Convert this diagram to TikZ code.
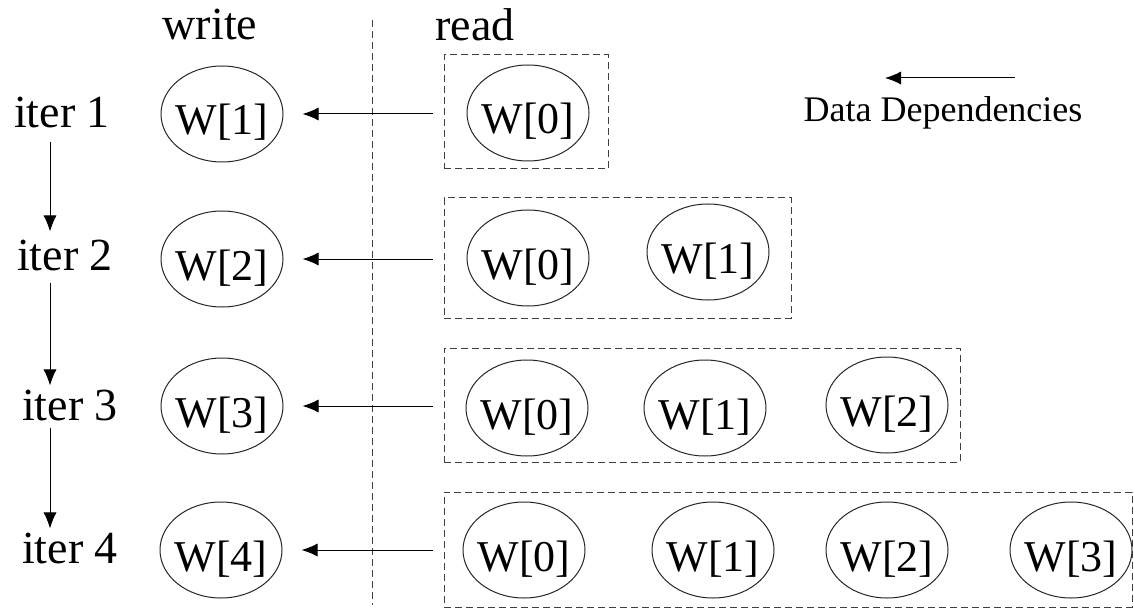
\documentclass[tikz,border=0pt]{standalone}
\usepackage{fontspec}
\setmainfont{Liberation Serif}
\usetikzlibrary{arrows.meta,shapes.geometric,fit}

\begin{document}
\begin{tikzpicture}[x=0.5pt,y=-0.5pt,
        cell/.style={draw=black!85,line width=0.5pt,ellipse,minimum width=61pt,minimum height=48pt,
            inner ysep=0pt,inner xsep=-5pt,font=\fontsize{22}{24}\selectfont,text height=24pt,text depth=3pt},
        readbox/.style={draw=black!75,line width=0.5pt,dash pattern=on 3.5pt off 2pt,inner sep=0pt},
        lbl/.style={font=\fontsize{23}{26}\selectfont},
        dep/.style={-{Latex[length=8pt,width=6.5pt]},line width=0.5pt}]
        \useasboundingbox (0,0) rectangle (1134,609);
        % headings and the split between written and read values
        \node[lbl] (write) at (210,25) {write};
        \node[lbl] (read) at (475,25) {read};
        \draw[draw=black!75,line width=0.5pt,dash pattern=on 3.5pt off 2pt] (372,20) -- (372,605);
        % iterations
        \node[lbl] (I1) at (62,112) {iter 1};
        \node[lbl] (I2) at (65,255) {iter 2};
        \node[lbl] (I3) at (70,405) {iter 3};
        \node[lbl] (I4) at (70,548) {iter 4};
        \coordinate (C) at (50,0);
        \draw[dep,shorten <=3.5pt,shorten >=0.5pt] (I1.south -| C) -- (I2.north -| C);
        \draw[dep,shorten <=2.5pt,shorten >=-1.5pt] (I2.south -| C) -- (I3.north -| C);
        \draw[dep,shorten >=-1.5pt] (I3.south -| C) -- (I4.north -| C);
        % written values
        \node[cell] (W1) at (222,114) {W[1]};
        \node[cell] (W2) at (222,259) {W[2]};
        \node[cell] (W3) at (222,406) {W[3]};
        \node[cell] (W4) at (221,550) {W[4]};
        % read values
        \node[cell] (R10) at (528,113) {W[0]};
        \node[cell] (R20) at (528,258) {W[0]};
        \node[cell] (R21) at (708,252) {W[1]};
        \node[cell] (R30) at (527,408) {W[0]};
        \node[cell] (R31) at (705,408) {W[1]};
        \node[cell] (R32) at (887,405) {W[2]};
        \node[cell] (R40) at (524,550) {W[0]};
        \node[cell] (R41) at (713,550) {W[1]};
        \node[cell] (R42) at (887,550) {W[2]};
        \node[cell] (R43) at (1071,550) {W[3]};
        \node[readbox,fit={(444,55) (608,169)}] (B1) {};
        \node[readbox,fit={(444,198) (791,318)}] (B2) {};
        \node[readbox,fit={(444,348) (960,462)}] (B3) {};
        \node[readbox,fit={(444,492) (1132,607)}] (B4) {};
        % dependencies
        \draw[dep,shorten <=5.5pt,shorten >=9.5pt] (B1.west |- W1.east) -- (W1.east);
        \draw[dep,shorten <=5.5pt,shorten >=9.5pt] (B2.west |- W2.east) -- (W2.east);
        \draw[dep,shorten <=5.5pt,shorten >=9.5pt] (B3.west |- W3.east) -- (W3.east);
        \draw[dep,shorten <=5.5pt,shorten >=9.5pt] (B4.west |- W4.east) -- (W4.east);
        % legend
        \coordinate (L1) at (1015,78);
        \coordinate (L0) at (885,78);
        \draw[dep] (L1) -- (L0);
        \node[font=\fontsize{18}{20}\selectfont] (legend) at (943,113) {Data Dependencies};
    \end{tikzpicture}
\end{document}
